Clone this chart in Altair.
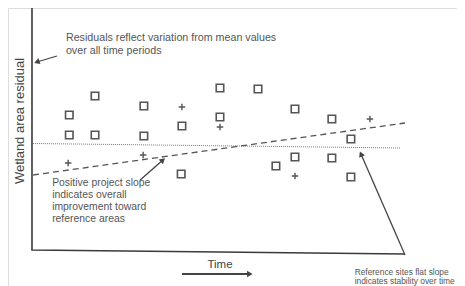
import altair as alt
import pandas as pd

# ---- data (time units, residual units) ----
sq_t = [1.0, 1.69, 3.0, 5.04, 6.06, 7.05, 8.04, 1.0, 1.69, 3.0, 4.02, 5.04, 8.55, 7.05, 8.04, 6.54, 4.0, 8.55]
sq_r = [3.1, 5.0, 4.0, 5.8, 5.7, 3.7, 2.7, 1.1, 1.1, 1.0, 2.0, 2.9, 0.7, -1.1, -1.2, -2.0, -2.8, -3.1]
pl_t = [4.02, 5.04, 9.06, 0.97, 2.98, 7.05]
pl_r = [3.9, 1.9, 2.7, -1.7, -0.9, -3.0]
ref_t = [0.03, 9.87]
ref_r = [0.25, -0.2]
proj_t = [0.03, 10.0]
proj_r = [-2.9, 2.3]
axis_t = [0.0, 0.0, 10.0]
axis_r = [13.8, -10.4, -10.8]

# annotation arrows: start (t, r) -> head (t2, r2), head angle
arr_t = [0.67, 2.9, 10.0, 4.02]
arr_r = [9.0, -3.4, -10.9, -12.8]
arr_t2 = [0.13, 3.51, 8.82, 5.84]
arr_r2 = [8.4, -1.4, -0.8, -12.8]
arr_ang = [161, 319, 246, 0]
arr_w = [1.3, 1.3, 1.3, 2.0]

top_lines = ["Residuals reflect variation from mean values", "over all time periods"]
proj_lines = ["Positive project slope", "indicates overall", "improvement toward", "reference areas"]
ref_lines = ["Reference sites flat slope", "indicates stability over time"]

W, H = 449, 278
xs = alt.Scale(domain=[-0.643, -0.643 + W / 37.3], nice=False, zero=False)
ys = alt.Scale(domain=[13.8 - H / 10.0, 13.8], nice=False, zero=False)
X = lambda f: alt.X(f, type="quantitative", scale=xs, axis=None)
Y = lambda f: alt.Y(f, type="quantitative", scale=ys, axis=None)

INK = "#3a3a3a"
TXT = "#555555"
FONT = "Liberation Sans"

sq = pd.DataFrame({"t": sq_t, "r": sq_r})
pl = pd.DataFrame({"t": pl_t, "r": pl_r})

squares = alt.Chart(sq).mark_point(shape="square", size=56, filled=False,
                                   color="#555555", strokeWidth=1.6, opacity=1).encode(x=X("t"), y=Y("r"))
pluses = alt.Chart(pl).mark_point(shape="M -1 0 L 1 0 M 0 -1 L 0 1", size=42, filled=False,
                                  color="#555555", strokeWidth=1.4, opacity=1).encode(x=X("t"), y=Y("r"))

ref_df = pd.DataFrame({"t": ref_t, "r": ref_r})
proj_df = pd.DataFrame({"t": proj_t, "r": proj_r})
ref_line = alt.Chart(ref_df).mark_line(color="#777777", strokeWidth=1, strokeDash=[1, 1]).encode(x=X("t"), y=Y("r"))
proj_line = alt.Chart(proj_df).mark_line(color="#555555", strokeWidth=1.3, strokeDash=[6, 4]).encode(x=X("t"), y=Y("r"))

ax_df = pd.DataFrame({"t": axis_t, "r": axis_r, "o": [0, 1, 2]})
axes = alt.Chart(ax_df).mark_line(color=INK, strokeWidth=1.6).encode(x=X("t"), y=Y("r"), order="o:Q")

arr = pd.DataFrame({"t": arr_t, "r": arr_r, "t2": arr_t2, "r2": arr_r2, "a": arr_ang, "w": arr_w})
arrow_lines = alt.Chart(arr).mark_rule(color="#444444").encode(
    x=X("t"), y=Y("r"), x2="t2:Q", y2="r2:Q",
    strokeWidth=alt.StrokeWidth("w:Q", scale=None))
arrow_heads = alt.Chart(arr).mark_point(shape="triangle-right", filled=True, size=40,
                                        color="#444444", opacity=1).encode(
    x=X("t2"), y=Y("r2"), angle=alt.Angle("a:Q", scale=None))

top_df = pd.DataFrame({"t": [0.91] * 2, "r": [10.8, 9.5], "s": top_lines})
top_txt = alt.Chart(top_df).mark_text(align="left", baseline="middle", fontSize=10.7,
                                      font=FONT, color=TXT).encode(x=X("t"), y=Y("r"), text="s:N")

proj_txt_df = pd.DataFrame({"t": [0.54] * 4, "r": [-3.7, -4.9, -6.1, -7.3], "s": proj_lines})
proj_txt = alt.Chart(proj_txt_df).mark_text(align="left", baseline="middle", fontSize=10.4,
                                            font=FONT, color=TXT).encode(x=X("t"), y=Y("r"), text="s:N")

ref_txt_df = pd.DataFrame({"t": [8.65] * 2, "r": [-12.55, -13.45], "s": ref_lines})
ref_txt = alt.Chart(ref_txt_df).mark_text(align="left", baseline="middle", fontSize=8.4,
                                          font=FONT, color=TXT).encode(x=X("t"), y=Y("r"), text="s:N")

ylab_df = pd.DataFrame({"t": [-0.33], "r": [2.5], "s": ["Wetland area residual"]})
ylab = alt.Chart(ylab_df).mark_text(align="center", baseline="middle", fontSize=13, angle=270,
                                    font=FONT, color="#444444").encode(x=X("t"), y=Y("r"), text="s:N")

xlab_df = pd.DataFrame({"t": [5.04], "r": [-11.9], "s": ["Time"]})
xlab = alt.Chart(xlab_df).mark_text(align="center", baseline="middle", fontSize=11.5,
                                    font=FONT, color="#444444").encode(x=X("t"), y=Y("r"), text="s:N")

chart = alt.layer(
    axes, ref_line, proj_line, squares, pluses, arrow_lines, arrow_heads,
    top_txt, proj_txt, ref_txt, ylab, xlab
).properties(
    width=W, height=H, padding=0, autosize=alt.AutoSizeParams(type="none")
).configure_view(stroke=None).configure(background="white")

chart.save("out.html", embed_options={"renderer": "svg", "actions": False})
